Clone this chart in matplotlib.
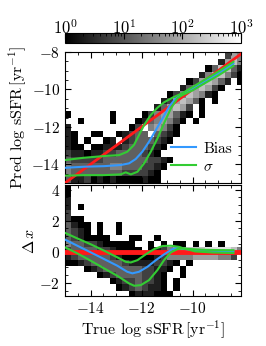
import numpy as np
import matplotlib
matplotlib.use('Agg')
import matplotlib.pyplot as plt
from matplotlib.colors import LogNorm

plt.rcParams['font.family'] = 'serif'
plt.rcParams['font.serif'] = ['cmr10', 'DejaVu Serif']
plt.rcParams['mathtext.fontset'] = 'cm'
plt.rcParams['axes.formatter.use_mathtext'] = True
plt.rcParams['font.size'] = 10

# 2D histogram cells.
# each char is a count level: '.' empty, '1'..'9' -> 1 .. 1000 counts (log steps)
x_edges = np.arange(-15.0, -7.99, 0.25)           # 28 columns
top_y_edges = np.linspace(-15.0, -8.0, 21)         # 20 rows
bot_y_edges = np.linspace(-2.9, 4.3, 19)           # 18 rows

top_rows = [  # top row first
    '.........................365',
    '........................2675',
    '......................147742',
    '.....................2577531',
    '...................1367642.1',
    '..................2467631...',
    '................13576521....',
    '...............2367641.1....',
    '..............246763.1......',
    '1......1....13566421.1......',
    '..1....1...12456531.1.......',
    '2.........13.56531..........',
    '21..11..12344.4321..........',
    '21.1..12.23444321...........',
    '211.112223444321............',
    '322122334444321.............',
    '43333344444443321...........',
    '5444444554443321............',
    '544444444333321.............',
    '422312121111211.............',
]

bot_rows = [  # top row first
    '1...........................',
    '1...........................',
    '2...........................',
    '2.1.........................',
    '3...........................',
    '311.........................',
    '4211.1..1...................',
    '4321.1..1...................',
    '4321111...11..1.............',
    '54433211111..1.1.11.1.1.1...',
    '344443321111.123566777888875',
    '234444432111112355556666553.',
    '112344444322223321.1........',
    '...12344444433221.1.........',
    '.....12344443321..1.........',
    '.......123343321.1..........',
    '........12343221.1..........',
    '..........1222111...........',
]

# curves (true log sSFR, value)
bias_x = [-15.04, -14.25, -13.47, -12.82, -12.49, -12.23, -11.97, -11.71, -11.44,
          -11.18, -10.92, -10.66, -10.4, -10.0, -9.5, -9.0, -8.4]
bias_y = [-14.19, -14.13, -14.1, -14.04, -13.95, -13.72, -13.33, -12.8, -12.17,
          -11.55, -10.92, -10.48, -10.24, -9.95, -9.55, -9.15, -8.62]
sig_hi_x = [-15.04, -14.25, -13.47, -12.88, -12.56, -12.3, -12.1, -11.9, -11.64,
            -11.38, -11.12, -10.79, -10.4, -10.0, -9.5, -9.0, -8.4]
sig_hi_y = [-13.78, -13.65, -13.56, -13.51, -13.33, -12.97, -12.44, -11.9, -11.37,
            -10.98, -10.69, -10.44, -10.2, -9.87, -9.46, -9.05, -8.52]
sig_lo_x = [-15.04, -14.25, -13.47, -12.82, -12.62, -12.42, -12.16, -11.9, -11.64,
            -11.38, -11.12, -10.85, -10.6, -10.4, -10.0, -9.5, -9.0, -8.4]
sig_lo_y = [-14.61, -14.58, -14.58, -14.54, -14.43, -14.54, -14.4, -13.95, -13.33,
            -12.62, -11.81, -11.01, -10.48, -10.3, -10.05, -9.65, -9.26, -8.74]

d_bias_x = [-15.04, -14.52, -13.99, -13.47, -12.95, -12.56, -12.36, -12.1, -11.77,
            -11.44, -11.12, -10.79, -10.53, -10.33, -9.9, -9.2, -8.4]
d_bias_y = [0.82, 0.39, -0.04, -0.47, -0.9, -1.29, -1.39, -1.29, -0.97,
            -0.54, -0.17, 0.17, 0.26, 0.18, 0.1, 0.06, 0.03]
d_hi_x = [-15.04, -14.52, -13.99, -13.47, -12.95, -12.62, -12.42, -12.16, -11.84,
          -11.51, -11.18, -10.85, -10.53, -10.33, -9.63, -9.0, -8.4]
d_hi_y = [1.25, 0.86, 0.48, 0.07, -0.36, -0.65, -0.69, -0.54, -0.17,
          0.17, 0.37, 0.39, 0.32, 0.2, 0.13, 0.11, 0.1]
d_lo_x = [-15.04, -14.52, -13.99, -13.47, -12.95, -12.49, -12.29, -12.03, -11.71,
          -11.38, -11.12, -10.85, -10.6, -10.33, -9.9, -9.2, -8.4]
d_lo_y = [0.32, -0.1, -0.58, -1.07, -1.55, -2.04, -2.19, -2.15, -1.83,
          -1.18, -0.54, -0.04, 0.17, 0.22, 0.02, -0.05, -0.08]


def decode(rows):
    grid = np.zeros((len(rows), 28))
    for r, s in enumerate(rows):
        for c, ch in enumerate(s.ljust(28, '.')[:28]):
            if ch.isdigit():
                grid[r, c] = 10 ** ((int(ch) - 1) * 3 / 8.)
    return np.ma.masked_equal(grid[::-1], 0)


norm = LogNorm(vmin=1, vmax=1000)
red = '#ff1a1a'
blue = '#3399ff'
green = '#33cc33'

fig = plt.figure(figsize=(2.66, 3.46), dpi=100)
cax = fig.add_axes([0.2444, 0.8757, 0.662, 0.029])
ax1 = fig.add_axes([0.2444, 0.4711, 0.662, 0.3786])
ax2 = fig.add_axes([0.2444, 0.1445, 0.662, 0.3208])

mesh = ax1.pcolormesh(x_edges, top_y_edges, decode(top_rows), cmap='gray', norm=norm)
ax1.plot([-15, -8], [-15, -8], color=red, lw=2, zorder=3)
ax1.plot(bias_x, bias_y, color=blue, lw=1.5, label='Bias', zorder=4)
ax1.plot(sig_hi_x, sig_hi_y, color=green, lw=1.5, label=r'$\sigma$', zorder=5)
ax1.plot(sig_lo_x, sig_lo_y, color=green, lw=1.5, zorder=5)
ax1.set_xlim(-15, -8.1)
ax1.set_ylim(-15, -8)
ax1.set_xticklabels([])
ax1.set_ylabel(r'Pred log sSFR$\,$[yr$^{-1}$]', fontsize=11.5, labelpad=2)
ax1.legend(loc='lower right', frameon=False, fontsize=11, handlelength=1.6,
           handletextpad=0.5, borderaxespad=0.2, labelspacing=0.3)

ax2.pcolormesh(x_edges, bot_y_edges, decode(bot_rows), cmap='gray', norm=norm)
ax2.axhline(0, color=red, lw=3.5, zorder=3)
ax2.plot(d_bias_x, d_bias_y, color=blue, lw=1.5, zorder=4)
ax2.plot(d_hi_x, d_hi_y, color=green, lw=1.5, zorder=5)
ax2.plot(d_lo_x, d_lo_y, color=green, lw=1.5, zorder=5)
ax2.set_xlim(-15, -8.1)
ax2.set_ylim(-2.85, 4.3)
ax2.set_xlabel(r'True log sSFR$\,$[yr$^{-1}$]', fontsize=11.5, labelpad=2)
ax2.set_ylabel(r'$\Delta\,x$', fontsize=11.5, labelpad=2)

for ax in (ax1, ax2):
    ax.set_xticks([-14, -12, -10])
    ax.xaxis.set_minor_locator(plt.MultipleLocator(0.5))
    ax.yaxis.set_major_locator(plt.MultipleLocator(2))
    ax.yaxis.set_minor_locator(plt.MultipleLocator(0.5))
    ax.tick_params(which='both', direction='in', top=True, right=True, labelsize=11)
    ax.tick_params(which='major', length=4)
    ax.tick_params(which='minor', length=2)

cb = fig.colorbar(mesh, cax=cax, orientation='horizontal')
cax.xaxis.set_ticks_position('top')
cax.xaxis.set_label_position('top')
cax.tick_params(axis='x', which='major', direction='in', length=4, pad=-3,
                labelsize=12)
cax.tick_params(axis='x', which='minor', direction='in', length=2)

fig.savefig('out.png', dpi=100)
plt.close()
